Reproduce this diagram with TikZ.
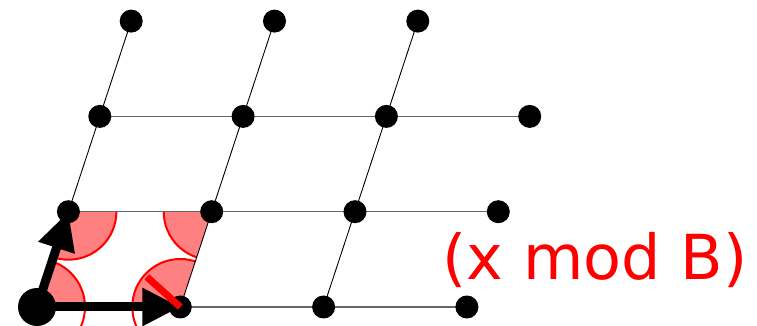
\documentclass[tikz,border=0pt]{standalone}
\usepackage{fontspec}
\newfontfamily\labelfont{DejaVu Sans}
\usetikzlibrary{arrows.meta}
\definecolor{latgray}{HTML}{666666}
\definecolor{sectorfill}{HTML}{FF8080}

\begin{document}
\begin{tikzpicture}[
  dot/.style={circle,fill=black,inner sep=0pt,minimum size=23pt},
  bigdot/.style={circle,fill=black,inner sep=0pt,minimum size=38pt},
  hline/.style={draw=latgray,line width=1.2pt},
  sline/.style={draw=black,line width=0.9pt},
  sector/.style={draw=red,line width=2pt},
  arr/.style={-{Triangle[length=38pt,width=36pt]},line width=9pt},
  redbar/.style={draw=red,line width=7pt},
  modlabel/.style={text=red,inner sep=0pt,anchor=base,font=\labelfont\fontsize{62}{74}\selectfont}
]
\useasboundingbox (0,0) rectangle (757pt,326pt);
% lattice points
\begin{scope}[shift={(37pt,19pt)},x={(143.3pt,0pt)},y={(31.4pt,95.3pt)}]
  \foreach \i in {0,...,3}
    \foreach \j in {0,...,3}
      \coordinate (c-\i-\j) at (\i,\j);
\end{scope}
% fundamental cell
\begin{scope}
  \clip (c-0-0) -- (c-1-0) -- (c-1-1) -- (c-0-1) -- cycle;
  \foreach \c in {c-0-0,c-1-0,c-1-1,c-0-1}
    \fill[sectorfill] (\c) circle[radius=48pt];
\end{scope}
\begin{scope}
  \clip (c-0-1) -- (c-0-0) -- ++(0,-20pt) -- ([yshift=-20pt]c-1-0) -- (c-1-0) -- (c-1-1) -- cycle;
  \foreach \c in {c-0-0,c-1-0,c-1-1,c-0-1}
    \draw[sector] (\c) circle[radius=48pt];
\end{scope}
% grid lines
\foreach \j in {0,1,2}
  \draw[hline] (c-0-\j) -- (c-3-\j);
\foreach \i in {0,1,2}
  \draw[sline] (c-\i-0) -- (c-\i-3);
% dots
\foreach \i in {1,2,3}
  \node[dot] (p-\i-0) at (c-\i-0) {};
\foreach \j in {1,2}
  \foreach \i in {0,...,3}
    \node[dot] (p-\i-\j) at (c-\i-\j) {};
\foreach \i in {0,1,2}
  \node[dot] (p-\i-3) at (c-\i-3) {};
\node[bigdot] (p-0-0) at (c-0-0) {};
% basis
\draw[arr] (p-0-0.center) -- (p-1-0.center);
\draw[arr] (p-0-0.center) -- (p-0-1.center);
\draw[redbar] (p-1-0.center) -- ++(138:45pt);
\node[modlabel] (lbl) at (595pt,46pt) {(x mod B)};
\end{tikzpicture}
\end{document}
